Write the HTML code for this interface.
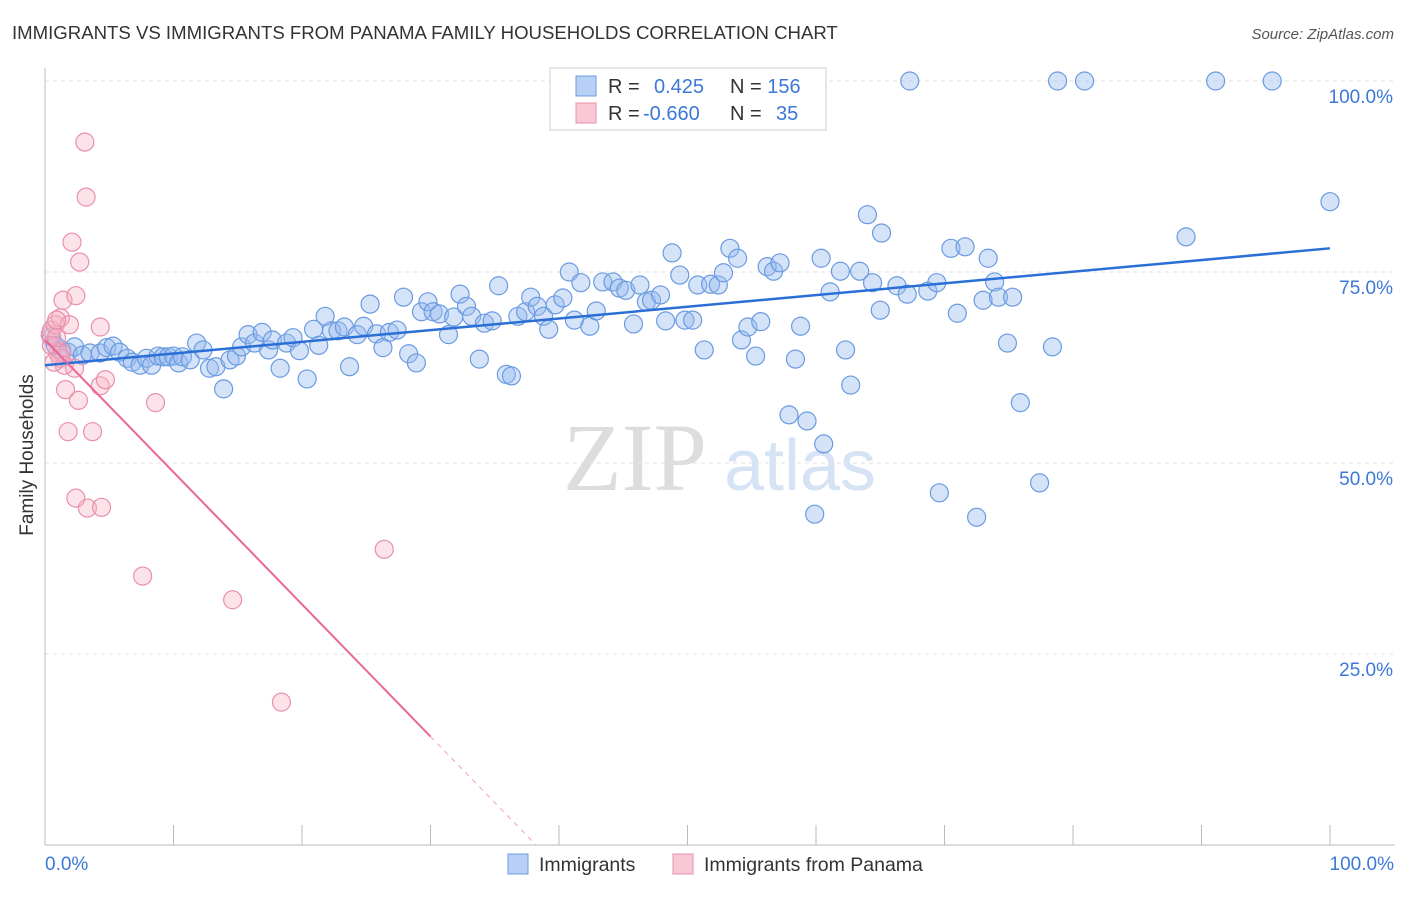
<!DOCTYPE html>
<html><head><meta charset="utf-8"><style>
body{margin:0;background:#fff;font-family:"Liberation Sans",sans-serif}
</style></head><body>
<svg id="c" width="1406" height="892" xmlns="http://www.w3.org/2000/svg">
<text x="12" y="39" font-size="18.6" fill="#333">IMMIGRANTS VS IMMIGRANTS FROM PANAMA FAMILY HOUSEHOLDS CORRELATION CHART</text>
<text x="1394" y="39" font-size="15" fill="#555" font-style="italic" text-anchor="end">Source: ZipAtlas.com</text>
<text x="635" y="490" font-size="96" fill="#ddd" font-family="Liberation Serif,serif" text-anchor="middle">ZIP</text>
<text x="800" y="490" font-size="72" fill="#d5e3f5" text-anchor="middle">atlas</text>
<g id="grid"></g><g id="pts"></g><g id="trend"></g>
<text x="33" y="455" font-size="19" fill="#333" transform="rotate(-90 33 455)" text-anchor="middle">Family Households</text>
<text x="45" y="870" font-size="19" fill="#3b78d8">0.0%</text>
<text x="1394" y="870" font-size="19" fill="#3b78d8" text-anchor="end">100.0%</text>
<g>
<rect x="550" y="68" width="276" height="62" fill="#fff" stroke="#ccc"/>
<rect x="576" y="76" width="20" height="20" fill="#b8d0f5" stroke="#6a9be0"/>
<text x="608" y="93" font-size="20" fill="#333">R = <tspan fill="#3b78d8" x="654">0.425</tspan><tspan x="730">N = </tspan><tspan fill="#3b78d8">156</tspan></text>
<rect x="576" y="103" width="20" height="20" fill="#f8c8d6" stroke="#e890aa"/>
<text x="608" y="120" font-size="20" fill="#333">R = <tspan fill="#3b78d8" x="643">-0.660</tspan><tspan x="730">N = </tspan><tspan fill="#3b78d8" x="776">35</tspan></text>
</g>
<g>
<rect x="508" y="854" width="20" height="20" fill="#b8d0f5" stroke="#6a9be0"/>
<text x="539" y="871" font-size="19.5" fill="#333">Immigrants</text>
<rect x="673" y="854" width="20" height="20" fill="#f8c8d6" stroke="#e890aa"/>
<text x="704" y="871" font-size="19.5" fill="#333">Immigrants from Panama</text>
</g>
</svg>
<script>
const blueX=[0.5,0.8,1.3,1.8,2.3,2.9,3.5,4.3,4.8,5.3,5.8,6.4,6.8,7.4,7.9,8.3,8.8,9.2,9.6,10.0,10.4,10.7,11.3,11.8,12.3,12.8,13.3,13.9,14.4,14.9,15.3,15.8,16.3,16.9,17.4,17.7,18.3,18.8,19.3,19.8,20.4,20.9,21.3,21.8,22.3,22.8,23.3,23.7,24.3,24.8,25.3,25.8,26.3,26.8,27.4,27.9,28.3,28.9,29.3,29.8,30.2,30.7,31.4,31.8,32.3,32.8,33.2,33.8,34.2,34.8,35.3,35.9,36.3,36.8,37.4,37.8,38.3,38.8,39.2,39.7,40.3,40.8,41.2,41.7,42.4,42.9,43.4,44.2,44.7,45.2,45.8,46.3,46.8,47.2,47.9,48.3,48.8,49.4,49.8,50.4,50.8,51.3,51.8,52.4,52.8,53.3,53.9,54.2,54.7,55.3,55.7,56.2,56.7,57.2,57.9,58.4,58.8,59.3,59.9,60.4,60.6,61.1,61.9,62.3,62.7,63.4,64.0,64.4,65.0,65.1,66.3,67.1,67.3,68.7,69.4,69.6,70.5,71.0,71.6,72.5,73.0,73.4,73.9,74.2,74.9,75.3,75.9,77.4,78.4,78.8,80.9,88.8,91.1,95.5,100.0];
const blueY=[66.5,65.4,64.8,64.5,65.2,64.1,64.4,64.4,65.1,65.3,64.5,63.7,63.2,62.8,63.7,62.8,64.0,63.9,63.9,64.0,63.1,63.9,63.5,65.7,64.8,62.4,62.6,59.7,63.5,64.0,65.2,66.8,65.7,67.1,64.8,66.1,62.4,65.7,66.4,64.7,61.0,67.5,65.4,69.2,67.3,67.3,67.8,62.6,66.8,67.9,70.8,66.9,65.1,67.1,67.4,71.7,64.3,63.1,69.8,71.1,69.8,69.5,66.8,69.1,72.1,70.5,69.2,63.6,68.3,68.6,73.2,61.6,61.4,69.2,69.8,71.7,70.5,69.2,67.5,70.7,71.6,75.0,68.7,73.6,67.9,69.9,73.7,73.7,72.9,72.6,68.2,73.3,71.1,71.3,72.0,68.6,77.5,74.6,68.7,68.7,73.3,64.8,73.4,73.3,74.9,78.1,76.8,66.1,67.8,64.0,68.5,75.7,75.1,76.2,56.3,63.6,67.9,55.5,43.3,76.8,52.5,72.4,75.1,64.8,60.2,75.1,82.5,73.6,70.0,80.1,73.2,72.1,100,72.5,73.6,46.1,78.1,69.6,78.3,42.9,71.3,76.8,73.7,71.7,65.7,71.7,57.9,47.4,65.2,100,100,79.6,100,100,84.2];
const pinkX=[0.4,0.5,0.8,1.0,1.2,1.4,1.6,1.8,1.9,2.1,2.3,2.4,2.6,2.7,3.1,3.2,3.3,3.7,4.3,4.3,4.4,4.7,7.6,8.6,14.6,18.4,26.4,0.5,0.9,1.2,1.3,0.9,1.5,2.4,0.7];
const pinkY=[66.8,67.4,68.1,64.4,69.0,71.3,59.6,54.1,68.1,78.9,62.4,71.9,58.2,76.3,92.0,84.8,44.1,54.1,67.8,60.1,44.2,60.9,35.2,57.9,32.1,18.7,38.7,65.4,68.7,63.7,64.5,66.4,62.8,45.4,63.2];
const blueTrend=[62.8,78.1]; // y at x=0, x=100
const pinkTrend=[66.1,-1.73,30]; // intercept, slope, solid-end x
const yTicks=[25,50,75,100];
const xTicks=[0,10,20,30,40,50,60,70,80,90,100];
const X=v=>45+v*12.85, Y=v=>845-v*7.64;
const NS='http://www.w3.org/2000/svg';
function mk(tag,attrs,parent){const e=document.createElementNS(NS,tag);for(const k in attrs)e.setAttribute(k,attrs[k]);parent.appendChild(e);return e;}
const grid=document.getElementById('grid'),pts=document.getElementById('pts'),tr=document.getElementById('trend');
yTicks.forEach(t=>{
 const l=mk('line',{x1:45,x2:1395,y1:Y(t),y2:Y(t),stroke:'#e2e2e2','stroke-dasharray':'4,4'},grid);
 
 
 const tx=mk('text',{x:1393,y:Y(t)+22,'font-size':19,fill:'#3b78d8','text-anchor':'end'},grid);
 tx.textContent=t.toFixed(1)+'%';
 
 
});
let ax=mk('line',{x1:45,x2:45,y1:68,y2:845,stroke:'#bbb'},grid);


ax=mk('line',{x1:45,x2:1395,y1:845,y2:845,stroke:'#bbb'},grid);


xTicks.forEach(t=>{
 const l=mk('line',{x1:X(t),x2:X(t),y1:825,y2:845,stroke:'#bbb'},grid);
 
 
});
blueX.forEach((x,i)=>{
 const c=mk('circle',{cx:X(x),cy:Y(blueY[i]),r:9,fill:'rgba(150,185,240,0.4)',stroke:'#6a9be0','stroke-width':1.2},pts);
 
 
});
pinkX.forEach((x,i)=>{
 const c=mk('circle',{cx:X(x),cy:Y(pinkY[i]),r:9,fill:'rgba(245,175,195,0.35)',stroke:'#e890aa','stroke-width':1.2},pts);
 
 
});
let t=mk('line',{x1:X(0),y1:Y(blueTrend[0]),x2:X(100),y2:Y(blueTrend[1]),stroke:'#2a6fd6','stroke-width':2.5},tr);


const pe=pinkTrend[2], pz=-pinkTrend[0]/pinkTrend[1];
t=mk('line',{x1:X(0),y1:Y(pinkTrend[0]),x2:X(pe),y2:Y(pinkTrend[0]+pinkTrend[1]*pe),stroke:'#e8679a','stroke-width':2},tr);


t=mk('line',{x1:X(pe),y1:Y(pinkTrend[0]+pinkTrend[1]*pe),x2:X(pz),y2:Y(0),stroke:'#f0a0bc','stroke-width':1,'stroke-dasharray':'5,5'},tr);


</script>
</body></html>
